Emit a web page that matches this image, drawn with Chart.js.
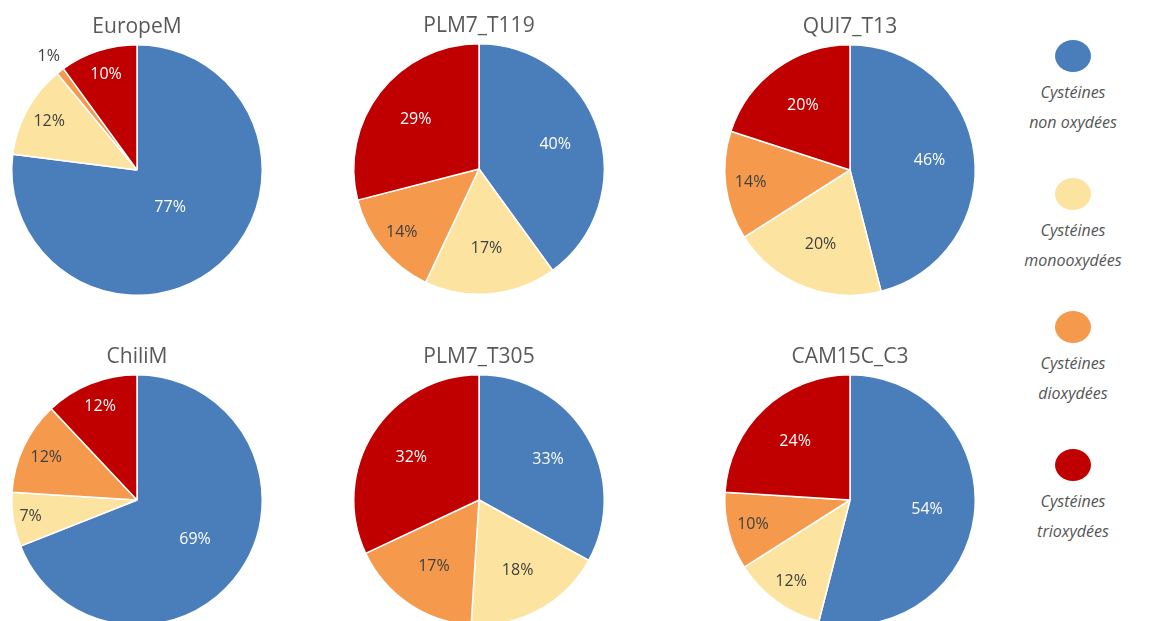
<!DOCTYPE html>
<html>
<head>
<meta charset="utf-8">
<script src="https://cdn.jsdelivr.net/npm/chart.js@4.4.1/dist/chart.umd.min.js"></script>
<style>
  html, body { margin: 0; padding: 0; background: #fff; }
  body { width: 1155px; height: 621px; position: relative; overflow: hidden; font-family: "Open Sans", sans-serif; }
  .pie { position: absolute; width: 300px; height: 300px; }
  .title { position: absolute; width: 240px; text-align: center; font-size: 21px; color: #595959; z-index: 2; line-height: 26px; }
  .legend { position: absolute; left: 1008px; width: 130px; text-align: center; }
  .dot { width: 36px; height: 32px; border-radius: 50%; margin: 0 auto 5px auto; }
  .lab { font-style: italic; font-size: 16px; color: #555555; line-height: 30px; }
</style>
</head>
<body>
<div id="root"></div>
<script>
// series order: non oxydées, monooxydées, dioxydées, trioxydées
const seriesNames = ['Cystéines non oxydées', 'Cystéines monooxydées', 'Cystéines dioxydées', 'Cystéines trioxydées'];
const legendLines = [['Cystéines', 'non oxydées'], ['Cystéines', 'monooxydées'], ['Cystéines', 'dioxydées'], ['Cystéines', 'trioxydées']];
const colors = ['#4a7ebb', '#fce39f', '#f59a4c', '#c00000'];
const labelColors = ['#ffffff', '#404040', '#404040', '#ffffff'];

const sampleNames = ['EuropeM', 'PLM7_T119', 'QUI7_T13', 'ChiliM', 'PLM7_T305', 'CAM15C_C3'];
const europeM = [77, 12, 1, 10];
const plm7T119 = [40, 17, 14, 29];
const qui7T13 = [46, 20, 14, 20];
const chiliM = [69, 7, 12, 12];
const plm7T305 = [33, 18, 17, 32];
const cam15cC3 = [54, 12, 10, 24];
const sampleValues = [europeM, plm7T119, qui7T13, chiliM, plm7T305, cam15cC3];

// pie centres on the page
const centers = [[137, 170], [479, 169], [850, 170], [137, 500], [479, 500], [850, 500]];

const pctLabels = {
  id: 'pctLabels',
  afterDatasetsDraw(chart) {
    const ctx = chart.ctx;
    const meta = chart.getDatasetMeta(0);
    const data = chart.data.datasets[0].data;
    const total = data.reduce((a, b) => a + b, 0);
    ctx.save();
    ctx.font = '16px "Open Sans", sans-serif';
    ctx.textAlign = 'center';
    ctx.textBaseline = 'middle';
    meta.data.forEach((arc, i) => {
      const p = arc.getProps(['x', 'y', 'startAngle', 'endAngle', 'outerRadius'], true);
      const mid = (p.startAngle + p.endAngle) / 2;
      const frac = data[i] / total;
      let k = 0.64;
      let col = labelColors[i];
      if (frac >= 0.75) k = 0.4;
      else if (frac >= 0.6) k = 0.56;
      else if (frac >= 0.5) k = 0.62;
      else if (frac < 0.03) { k = 1.15; col = '#404040'; }
      else if (frac < 0.1) k = 0.86;
      else if (frac < 0.16) k = 0.8;
      ctx.fillStyle = col;
      ctx.fillText(data[i] + '%', p.x + Math.cos(mid) * p.outerRadius * k, p.y + Math.sin(mid) * p.outerRadius * k);
    });
    ctx.restore();
  }
};

const root = document.getElementById('root');
sampleNames.forEach((name, n) => {
  const [cx, cy] = centers[n];
  const t = document.createElement('div');
  t.className = 'title';
  t.textContent = name;
  t.style.left = (cx - 120) + 'px';
  t.style.top = (cy - 158) + 'px';
  root.appendChild(t);

  const c = document.createElement('canvas');
  c.className = 'pie';
  c.width = 300; c.height = 300;
  c.style.left = (cx - 150) + 'px';
  c.style.top = (cy - 150) + 'px';
  root.appendChild(c);

  new Chart(c, {
    type: 'pie',
    data: {
      labels: seriesNames,
      datasets: [{
        data: sampleValues[n],
        backgroundColor: colors,
        borderColor: '#ffffff',
        borderWidth: 1.5
      }]
    },
    options: {
      responsive: false,
      animation: false,
      layout: { padding: 24 },
      plugins: { legend: { display: false }, tooltip: { enabled: false }, title: { display: false } }
    },
    plugins: [pctLabels]
  });
});

const legendTops = [40, 178, 311, 449];
legendLines.forEach((lines, i) => {
  const d = document.createElement('div');
  d.className = 'legend';
  d.style.top = legendTops[i] + 'px';
  d.innerHTML = '<div class="dot" style="background:' + colors[i] + '"></div>' +
    lines.map(l => '<div class="lab">' + l + '</div>').join('');
  root.appendChild(d);
});
</script>
</body>
</html>
